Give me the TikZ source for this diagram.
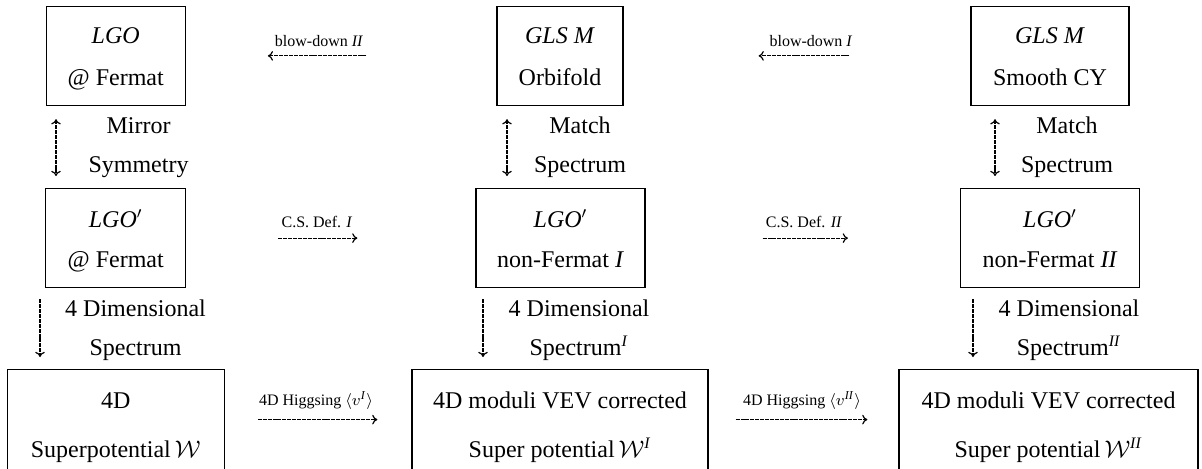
\documentclass[tikz,border=0pt]{standalone}
\usepackage{fontspec}
\setmainfont{Liberation Serif}
\usetikzlibrary{arrows.meta}
\begin{document}
\begin{tikzpicture}[x=0.5pt,y=-0.5pt,
  boxbase/.style={draw, line width=0.6pt, inner sep=0pt, align=center, anchor=north},
  boxA/.style={boxbase, text height=39.75pt, text depth=10pt, font=\fontsize{12}{21}\selectfont},
  boxB/.style={boxbase, text height=39.5pt, text depth=10pt, font=\fontsize{12}{20}\selectfont},
  boxC/.style={boxbase, text height=44pt, text depth=6pt, font=\fontsize{12}{24.5}\selectfont},
  small/.style={anchor=base, inner sep=0pt, font=\fontsize{8}{9.6}\selectfont},
  vlab/.style={anchor=base, inner sep=0pt, align=center, font=\fontsize{12}{19.5}\selectfont},
  tip/.style={},
  arr/.style={-{To[length=2.6pt,width=4.8pt]}, line width=0.6pt, dash pattern=on 2pt off 0.45pt},
  biarr/.style={{To[length=2.6pt,width=4.8pt]}-{To[length=2.6pt,width=4.8pt]}, line width=0.6pt, dash pattern=on 2pt off 0.45pt}
]
\useasboundingbox (0,0) rectangle (1202,468);

% boxes
\node[boxA, minimum width=69.5pt] (b1) at (115.7,5.5) {\textit{LGO}\\@ Fermat};
\node[boxA, minimum width=63pt] (b2) at (560,5.5) {\textit{GLS M}\\Orbifold};
\node[boxA, minimum width=79pt] (b3) at (1050,5.5) {\textit{GLS M}\\Smooth CY};
\node[boxB, minimum width=70pt] (b4) at (115.7,188) {\textit{LGO}$'$\\@ Fermat};
\node[boxB, minimum width=84.5pt] (b5) at (560.5,188) {\textit{LGO}$'$\\non-Fermat \textit{I}};
\node[boxB, minimum width=89.5pt] (b6) at (1050,188) {\textit{LGO}$'$\\non-Fermat \textit{II}};
\node[boxC, minimum width=108.5pt] (b7) at (115.7,369) {4D\\Superpotential\,$\mathcal{W}$};
\node[boxC, minimum width=148pt] (b8) at (560,369) {4D moduli VEV corrected\\Super potential\,$\mathcal{W}$\textsuperscript{\textit{I}}};
\node[boxC, minimum width=149.5pt] (b9) at (1048.5,369) {4D moduli VEV corrected\\Super potential\,$\mathcal{W}$\textsuperscript{\textit{II}}};

% column x positions of vertical arrows
\coordinate (v1) at (56,0);
\coordinate (v2) at (507,0);
\coordinate (v3) at (995,0);
\coordinate (d1) at (40,0);
\coordinate (d2) at (483,0);
\coordinate (d3) at (973,0);

% vertical arrows
\draw[biarr, shorten <=6.5pt, shorten >=6pt] (v1 |- b1.south) -- (v1 |- b4.north);
\draw[biarr, shorten <=6.5pt, shorten >=6pt] (v2 |- b2.south) -- (v2 |- b5.north);
\draw[biarr, shorten <=6.5pt, shorten >=6pt] (v3 |- b3.south) -- (v3 |- b6.north);
\draw[arr, shorten <=5.5pt, shorten >=6pt] (d1 |- b4.south) -- (d1 |- b7.north);
\draw[arr, shorten <=5.5pt, shorten >=6pt] (d2 |- b5.south) -- (d2 |- b8.north);
\draw[arr, shorten <=5.5pt, shorten >=6pt] (d3 |- b6.south) -- (d3 |- b9.north);

% vertical labels (base = last line)
\node[vlab] (m1) at (138.5,172) {Mirror\\Symmetry};
\node[vlab] (m2) at (580,172) {Match\\Spectrum};
\node[vlab] (m3) at (1067,172) {Match\\Spectrum};
\node[vlab] (s1) at (135.5,355) {4 Dimensional\\Spectrum};
\node[vlab] (s2) at (579,355) {4 Dimensional\\Spectrum\textsuperscript{\textit{I}}};
\node[vlab] (s3) at (1069,355) {4 Dimensional\\Spectrum\textsuperscript{\textit{II}}};

% horizontal arrows
\draw[arr, shorten <=65pt, shorten >=41pt] (b2.west) -- (b1.east);
\draw[arr, shorten <=60.5pt, shorten >=67.5pt] (b3.west) -- (b2.east);
\draw[arr, shorten <=46pt, shorten >=59pt] (b4.east) -- (b5.west);
\draw[arr, shorten <=58.5pt, shorten >=56pt] (b5.east) -- (b6.west);
\draw[arr, shorten <=16.5pt, shorten >=17pt] (b7.east) -- (b8.west);
\draw[arr, shorten <=13.5pt, shorten >=15.5pt] (b8.east) -- (b9.west);

% horizontal labels
\node[small] (t1) at (319,46) {blow-down \textit{II}};
\node[small] (t2) at (811,46) {blow-down \textit{I}};
\node[small] (t3) at (317,227) {C.S. Def. \textit{I}};
\node[small] (t4) at (804,227) {C.S. Def. \textit{II}};
\node[small] (t5) at (316,405) {4D Higgsing $\langle v$\textsuperscript{\textit{I}}$\rangle$};
\node[small] (t6) at (802,405) {4D Higgsing $\langle v$\textsuperscript{\textit{II}}$\rangle$};
\end{tikzpicture}
\end{document}
